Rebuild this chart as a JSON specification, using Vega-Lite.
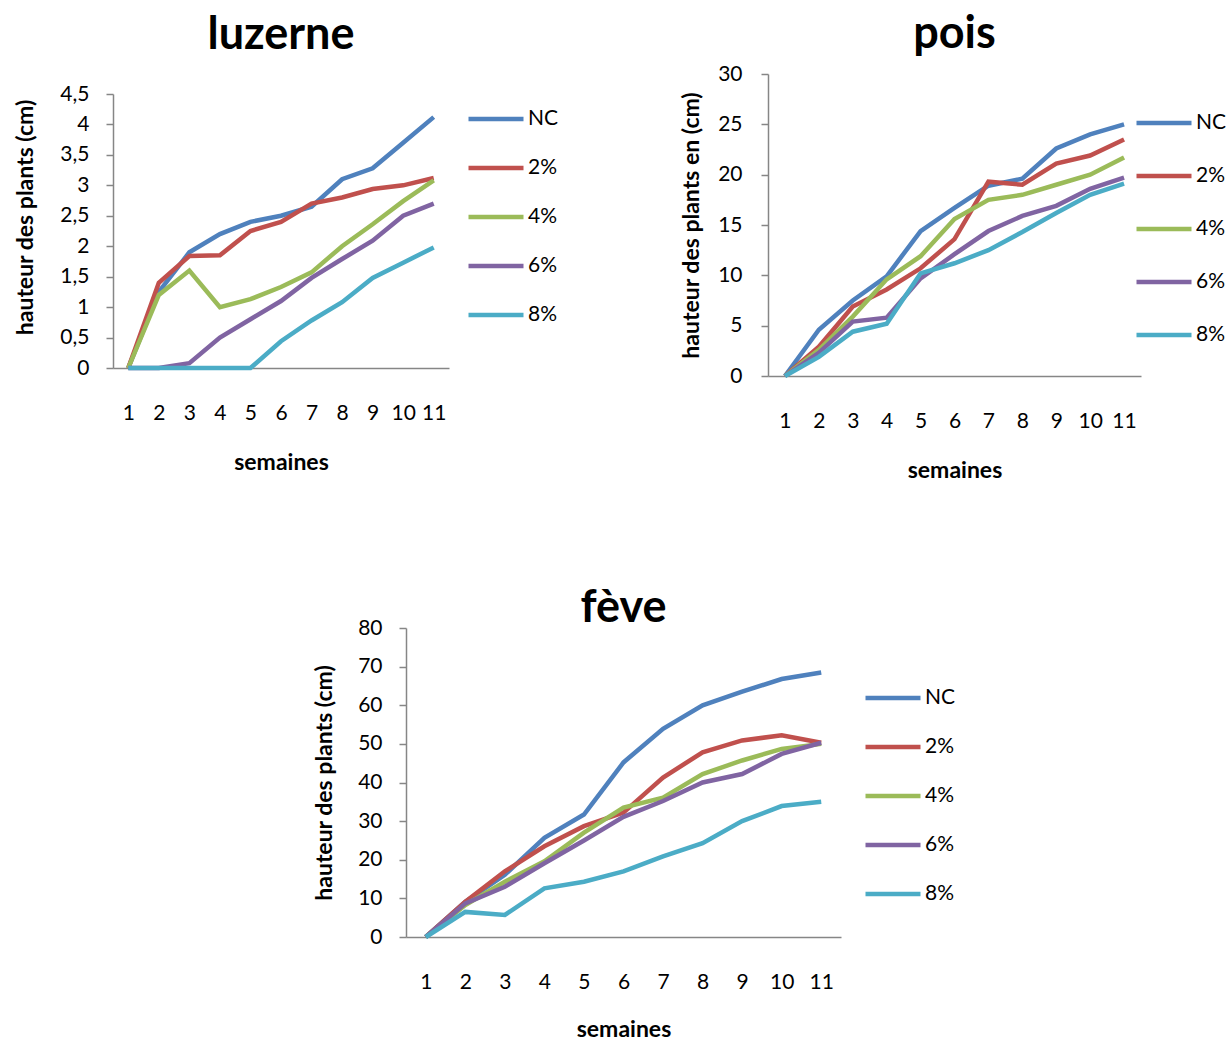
{
  "$schema": "https://vega.github.io/schema/vega-lite/v6.json",
  "padding": {"left": 14, "top": 12, "right": 0, "bottom": 0},
  "background": "white",
  "datasets": {
    "luzerne": [
      {"semaine": 1, "serie": "NC", "hauteur": 0}, {"semaine": 2, "serie": "NC", "hauteur": 1.25}, {"semaine": 3, "serie": "NC", "hauteur": 1.9}, {"semaine": 4, "serie": "NC", "hauteur": 2.2}, {"semaine": 5, "serie": "NC", "hauteur": 2.4}, {"semaine": 6, "serie": "NC", "hauteur": 2.5}, {"semaine": 7, "serie": "NC", "hauteur": 2.65}, {"semaine": 8, "serie": "NC", "hauteur": 3.1}, {"semaine": 9, "serie": "NC", "hauteur": 3.28}, {"semaine": 10, "serie": "NC", "hauteur": 3.7}, {"semaine": 11, "serie": "NC", "hauteur": 4.12},
      {"semaine": 1, "serie": "2%", "hauteur": 0}, {"semaine": 2, "serie": "2%", "hauteur": 1.4}, {"semaine": 3, "serie": "2%", "hauteur": 1.84}, {"semaine": 4, "serie": "2%", "hauteur": 1.85}, {"semaine": 5, "serie": "2%", "hauteur": 2.25}, {"semaine": 6, "serie": "2%", "hauteur": 2.4}, {"semaine": 7, "serie": "2%", "hauteur": 2.7}, {"semaine": 8, "serie": "2%", "hauteur": 2.8}, {"semaine": 9, "serie": "2%", "hauteur": 2.94}, {"semaine": 10, "serie": "2%", "hauteur": 3.0}, {"semaine": 11, "serie": "2%", "hauteur": 3.12},
      {"semaine": 1, "serie": "4%", "hauteur": 0}, {"semaine": 2, "serie": "4%", "hauteur": 1.2}, {"semaine": 3, "serie": "4%", "hauteur": 1.6}, {"semaine": 4, "serie": "4%", "hauteur": 1.0}, {"semaine": 5, "serie": "4%", "hauteur": 1.13}, {"semaine": 6, "serie": "4%", "hauteur": 1.33}, {"semaine": 7, "serie": "4%", "hauteur": 1.57}, {"semaine": 8, "serie": "4%", "hauteur": 2.0}, {"semaine": 9, "serie": "4%", "hauteur": 2.36}, {"semaine": 10, "serie": "4%", "hauteur": 2.74}, {"semaine": 11, "serie": "4%", "hauteur": 3.08},
      {"semaine": 1, "serie": "6%", "hauteur": 0}, {"semaine": 2, "serie": "6%", "hauteur": 0}, {"semaine": 3, "serie": "6%", "hauteur": 0.08}, {"semaine": 4, "serie": "6%", "hauteur": 0.5}, {"semaine": 5, "serie": "6%", "hauteur": 0.8}, {"semaine": 6, "serie": "6%", "hauteur": 1.1}, {"semaine": 7, "serie": "6%", "hauteur": 1.48}, {"semaine": 8, "serie": "6%", "hauteur": 1.79}, {"semaine": 9, "serie": "6%", "hauteur": 2.09}, {"semaine": 10, "serie": "6%", "hauteur": 2.5}, {"semaine": 11, "serie": "6%", "hauteur": 2.7},
      {"semaine": 1, "serie": "8%", "hauteur": 0}, {"semaine": 2, "serie": "8%", "hauteur": 0}, {"semaine": 3, "serie": "8%", "hauteur": 0}, {"semaine": 4, "serie": "8%", "hauteur": 0}, {"semaine": 5, "serie": "8%", "hauteur": 0}, {"semaine": 6, "serie": "8%", "hauteur": 0.44}, {"semaine": 7, "serie": "8%", "hauteur": 0.78}, {"semaine": 8, "serie": "8%", "hauteur": 1.08}, {"semaine": 9, "serie": "8%", "hauteur": 1.48}, {"semaine": 10, "serie": "8%", "hauteur": 1.73}, {"semaine": 11, "serie": "8%", "hauteur": 1.98}
    ],
    "pois": [
      {"semaine": 1, "serie": "NC", "hauteur": 0}, {"semaine": 2, "serie": "NC", "hauteur": 4.6}, {"semaine": 3, "serie": "NC", "hauteur": 7.5}, {"semaine": 4, "serie": "NC", "hauteur": 9.9}, {"semaine": 5, "serie": "NC", "hauteur": 14.4}, {"semaine": 6, "serie": "NC", "hauteur": 16.7}, {"semaine": 7, "serie": "NC", "hauteur": 18.9}, {"semaine": 8, "serie": "NC", "hauteur": 19.6}, {"semaine": 9, "serie": "NC", "hauteur": 22.6}, {"semaine": 10, "serie": "NC", "hauteur": 24.0}, {"semaine": 11, "serie": "NC", "hauteur": 25.0},
      {"semaine": 1, "serie": "2%", "hauteur": 0}, {"semaine": 2, "serie": "2%", "hauteur": 2.9}, {"semaine": 3, "serie": "2%", "hauteur": 6.9}, {"semaine": 4, "serie": "2%", "hauteur": 8.6}, {"semaine": 5, "serie": "2%", "hauteur": 10.7}, {"semaine": 6, "serie": "2%", "hauteur": 13.6}, {"semaine": 7, "serie": "2%", "hauteur": 19.3}, {"semaine": 8, "serie": "2%", "hauteur": 19.0}, {"semaine": 9, "serie": "2%", "hauteur": 21.1}, {"semaine": 10, "serie": "2%", "hauteur": 21.9}, {"semaine": 11, "serie": "2%", "hauteur": 23.5},
      {"semaine": 1, "serie": "4%", "hauteur": 0}, {"semaine": 2, "serie": "4%", "hauteur": 2.6}, {"semaine": 3, "serie": "4%", "hauteur": 5.9}, {"semaine": 4, "serie": "4%", "hauteur": 9.6}, {"semaine": 5, "serie": "4%", "hauteur": 11.9}, {"semaine": 6, "serie": "4%", "hauteur": 15.6}, {"semaine": 7, "serie": "4%", "hauteur": 17.5}, {"semaine": 8, "serie": "4%", "hauteur": 18.0}, {"semaine": 9, "serie": "4%", "hauteur": 19.0}, {"semaine": 10, "serie": "4%", "hauteur": 20.0}, {"semaine": 11, "serie": "4%", "hauteur": 21.7},
      {"semaine": 1, "serie": "6%", "hauteur": 0}, {"semaine": 2, "serie": "6%", "hauteur": 2.3}, {"semaine": 3, "serie": "6%", "hauteur": 5.4}, {"semaine": 4, "serie": "6%", "hauteur": 5.8}, {"semaine": 5, "serie": "6%", "hauteur": 9.7}, {"semaine": 6, "serie": "6%", "hauteur": 12.1}, {"semaine": 7, "serie": "6%", "hauteur": 14.4}, {"semaine": 8, "serie": "6%", "hauteur": 15.9}, {"semaine": 9, "serie": "6%", "hauteur": 16.9}, {"semaine": 10, "serie": "6%", "hauteur": 18.6}, {"semaine": 11, "serie": "6%", "hauteur": 19.7},
      {"semaine": 1, "serie": "8%", "hauteur": 0}, {"semaine": 2, "serie": "8%", "hauteur": 1.9}, {"semaine": 3, "serie": "8%", "hauteur": 4.4}, {"semaine": 4, "serie": "8%", "hauteur": 5.2}, {"semaine": 5, "serie": "8%", "hauteur": 10.2}, {"semaine": 6, "serie": "8%", "hauteur": 11.2}, {"semaine": 7, "serie": "8%", "hauteur": 12.5}, {"semaine": 8, "serie": "8%", "hauteur": 14.3}, {"semaine": 9, "serie": "8%", "hauteur": 16.2}, {"semaine": 10, "serie": "8%", "hauteur": 18.0}, {"semaine": 11, "serie": "8%", "hauteur": 19.1}
    ],
    "feve": [
      {"semaine": 1, "serie": "NC", "hauteur": 0}, {"semaine": 2, "serie": "NC", "hauteur": 9.1}, {"semaine": 3, "serie": "NC", "hauteur": 16.1}, {"semaine": 4, "serie": "NC", "hauteur": 25.7}, {"semaine": 5, "serie": "NC", "hauteur": 31.7}, {"semaine": 6, "serie": "NC", "hauteur": 45.2}, {"semaine": 7, "serie": "NC", "hauteur": 53.9}, {"semaine": 8, "serie": "NC", "hauteur": 60.0}, {"semaine": 9, "serie": "NC", "hauteur": 63.5}, {"semaine": 10, "serie": "NC", "hauteur": 66.8}, {"semaine": 11, "serie": "NC", "hauteur": 68.5},
      {"semaine": 1, "serie": "2%", "hauteur": 0}, {"semaine": 2, "serie": "2%", "hauteur": 9.1}, {"semaine": 3, "serie": "2%", "hauteur": 17.0}, {"semaine": 4, "serie": "2%", "hauteur": 23.5}, {"semaine": 5, "serie": "2%", "hauteur": 28.7}, {"semaine": 6, "serie": "2%", "hauteur": 32.2}, {"semaine": 7, "serie": "2%", "hauteur": 41.3}, {"semaine": 8, "serie": "2%", "hauteur": 47.8}, {"semaine": 9, "serie": "2%", "hauteur": 50.9}, {"semaine": 10, "serie": "2%", "hauteur": 52.2}, {"semaine": 11, "serie": "2%", "hauteur": 50.3},
      {"semaine": 1, "serie": "4%", "hauteur": 0}, {"semaine": 2, "serie": "4%", "hauteur": 8.3}, {"semaine": 3, "serie": "4%", "hauteur": 14.3}, {"semaine": 4, "serie": "4%", "hauteur": 19.6}, {"semaine": 5, "serie": "4%", "hauteur": 27.0}, {"semaine": 6, "serie": "4%", "hauteur": 33.5}, {"semaine": 7, "serie": "4%", "hauteur": 36.1}, {"semaine": 8, "serie": "4%", "hauteur": 42.2}, {"semaine": 9, "serie": "4%", "hauteur": 45.7}, {"semaine": 10, "serie": "4%", "hauteur": 48.7}, {"semaine": 11, "serie": "4%", "hauteur": 50.0},
      {"semaine": 1, "serie": "6%", "hauteur": 0}, {"semaine": 2, "serie": "6%", "hauteur": 8.7}, {"semaine": 3, "serie": "6%", "hauteur": 13.0}, {"semaine": 4, "serie": "6%", "hauteur": 19.1}, {"semaine": 5, "serie": "6%", "hauteur": 25.0}, {"semaine": 6, "serie": "6%", "hauteur": 31.1}, {"semaine": 7, "serie": "6%", "hauteur": 35.2}, {"semaine": 8, "serie": "6%", "hauteur": 40.0}, {"semaine": 9, "serie": "6%", "hauteur": 42.2}, {"semaine": 10, "serie": "6%", "hauteur": 47.4}, {"semaine": 11, "serie": "6%", "hauteur": 50.3},
      {"semaine": 1, "serie": "8%", "hauteur": 0}, {"semaine": 2, "serie": "8%", "hauteur": 6.5}, {"semaine": 3, "serie": "8%", "hauteur": 5.7}, {"semaine": 4, "serie": "8%", "hauteur": 12.6}, {"semaine": 5, "serie": "8%", "hauteur": 14.3}, {"semaine": 6, "serie": "8%", "hauteur": 17.0}, {"semaine": 7, "serie": "8%", "hauteur": 20.9}, {"semaine": 8, "serie": "8%", "hauteur": 24.3}, {"semaine": 9, "serie": "8%", "hauteur": 30.0}, {"semaine": 10, "serie": "8%", "hauteur": 33.9}, {"semaine": 11, "serie": "8%", "hauteur": 35.0}
    ]
  },
  "config": {
    "font": "Lato",
    "view": {"stroke": null},
    "axis": {
      "domainColor": "#868686", "tickColor": "#868686", "domainWidth": 1.5, "tickWidth": 1.5,
      "labelFontSize": 21, "labelColor": "black", "titleFontSize": 23, "titleFontWeight": "bold", "titleColor": "black", "grid": false
    },
    "axisX": {"ticks": false, "labelPadding": 34, "labelAngle": 0, "titlePadding": 28},
    "axisY": {"tickSize": 7, "labelPadding": 17},
    "title": {"fontSize": 45, "fontWeight": "bold", "color": "black"},
    "legend": {"symbolType": "stroke", "symbolStrokeWidth": 4.5, "labelFontSize": 21, "labelColor": "black", "clipHeight": 20, "labelOffset": 2, "orient": "none", "symbolSize": 3025}
  },
  "center": true,
  "spacing": 104,
  "resolve": {"scale": {"color": "independent"}, "legend": {"color": "independent"}},
  "vconcat": [
    {
      "spacing": 121,
      "resolve": {"scale": {"color": "independent"}, "legend": {"color": "independent"}},
      "hconcat": [
        {
          "width": 336, "height": 294,
          "title": {"text": "luzerne", "offset": 16},
          "data": {"name": "luzerne"},
          "mark": {"type": "line", "strokeWidth": 4.5},
          "encoding": {
            "x": {"field": "semaine", "type": "ordinal", "scale": {"padding": 0.5}, "axis": {"title": "semaines"}},
            "y": {"field": "hauteur", "type": "quantitative", "scale": {"domain": [0, 4.5], "range": [294, 20]},
                  "axis": {"values": [0, 0.5, 1, 1.5, 2, 2.5, 3, 3.5, 4, 4.5], "labelExpr": "replace(toString(datum.value), '.', ',')", "title": "hauteur des plants (cm)", "titlePadding": 22, "titleY": 143}},
            "color": {"field": "serie", "type": "nominal",
                      "scale": {"domain": ["NC", "2%", "4%", "6%", "8%"], "range": ["#4F81BD", "#C0504D", "#9BBB59", "#8064A2", "#4BACC6"]},
                      "legend": {"title": null, "legendX": 353, "legendY": 35, "rowPadding": 28}}
          }
        },
        {
          "width": 373, "height": 302,
          "title": {"text": "pois", "offset": 6},
          "data": {"name": "pois"},
          "mark": {"type": "line", "strokeWidth": 4.5},
          "encoding": {
            "x": {"field": "semaine", "type": "ordinal", "scale": {"padding": 0.5}, "axis": {"title": "semaines"}},
            "y": {"field": "hauteur", "type": "quantitative", "scale": {"domain": [0, 30]},
                  "axis": {"values": [0, 5, 10, 15, 20, 25, 30], "title": "hauteur des plants en (cm)", "titlePadding": 14, "labelPadding": 19}},
            "color": {"field": "serie", "type": "nominal",
                      "scale": {"domain": ["NC", "2%", "4%", "6%", "8%"], "range": ["#4F81BD", "#C0504D", "#9BBB59", "#8064A2", "#4BACC6"]},
                      "legend": {"title": null, "legendX": 344, "legendY": 17, "padding": 22, "rowPadding": 32}}
          }
        }
      ]
    },
    {
      "width": 435, "height": 309,
      "title": {"text": "fève", "offset": -14},
      "data": {"name": "feve"},
      "mark": {"type": "line", "strokeWidth": 4.5},
      "encoding": {
        "x": {"field": "semaine", "type": "ordinal", "scale": {"padding": 0.5}, "axis": {"title": "semaines", "titlePadding": 26}},
        "y": {"field": "hauteur", "type": "quantitative", "scale": {"domain": [0, 80]},
              "axis": {"values": [0, 10, 20, 30, 40, 50, 60, 70, 80], "title": "hauteur des plants (cm)", "titlePadding": 21}},
        "color": {"field": "serie", "type": "nominal",
                  "scale": {"domain": ["NC", "2%", "4%", "6%", "8%"], "range": ["#4F81BD", "#C0504D", "#9BBB59", "#8064A2", "#4BACC6"]},
                  "legend": {"title": null, "legendX": 457, "legendY": 60, "rowPadding": 28}}
      }
    }
  ]
}
